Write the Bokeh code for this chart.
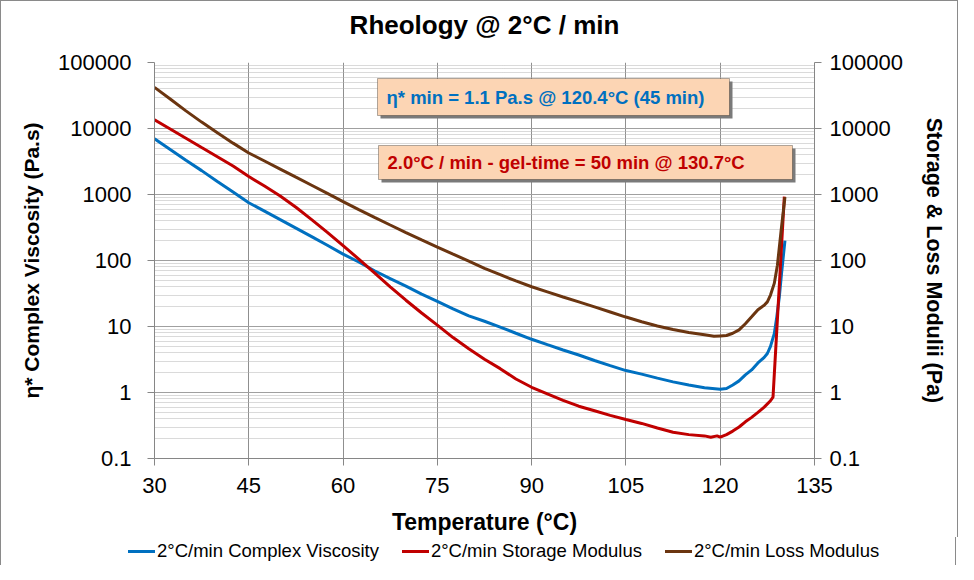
from bokeh.plotting import figure
from bokeh.layouts import column
from bokeh.models import (LogAxis, Range1d, LogScale, BoxAnnotation, Div,
                          Label, FixedTicker, CustomJSTickFormatter, Title)
from bokeh.embed import file_html
from bokeh.resources import INLINE

# ---------------- data ----------------
x_ticks = [30, 45, 60, 75, 90, 105, 120, 135]
y_ticks = [0.1, 1, 10, 100, 1000, 10000, 100000]

temp_visc = [30, 32.5, 35, 37.5, 40, 42.5, 45, 47.5, 50, 52.5, 55, 57.5, 60, 62.5, 65, 67.5, 70,
             72.5, 75, 77.5, 80, 82.5, 85, 87.5, 90, 92.5, 95, 97.5, 100, 102.5, 105, 107.5, 110,
             112.5, 115, 117.5, 120, 121, 122, 123, 124, 125, 126, 127, 127.5, 128, 128.6, 129,
             129.4, 129.8, 130.3]
complex_viscosity = [7000, 4800, 3300, 2300, 1580, 1090, 750, 560, 416, 310, 230, 170, 125, 95, 70,
                     53, 41, 31, 24, 18.5, 14.5, 12, 9.8, 7.9, 6.4, 5.3, 4.4, 3.7, 3.05, 2.55, 2.15,
                     1.9, 1.65, 1.45, 1.3, 1.18, 1.12, 1.15, 1.3, 1.5, 1.85, 2.2, 2.8, 3.4, 3.9, 5.0,
                     7.8, 14, 28, 70, 200]

temp_storage = [30, 32.5, 35, 37.5, 40, 42.5, 45, 47.5, 50, 52.5, 55, 57.5, 60, 62.5, 65, 67.5, 70,
                72.5, 75, 77.5, 80, 82.5, 85, 87.5, 90, 92.5, 95, 97.5, 100, 102.5, 105, 107.5, 110,
                112.5, 115, 117.5, 118.5, 119.5, 120, 121, 122, 123, 124, 125, 126, 127, 128, 128.4,
                130.2]
storage_modulus = [13600, 9850, 7130, 5160, 3740, 2700, 1870, 1346, 950, 640, 417, 267, 168, 105,
                   65, 40, 25, 16, 10.5, 6.8, 4.6, 3.2, 2.3, 1.6, 1.2, 0.95, 0.76, 0.62, 0.53, 0.45,
                   0.39, 0.34, 0.29, 0.25, 0.23, 0.22, 0.21, 0.22, 0.21, 0.23, 0.26, 0.3, 0.36,
                   0.42, 0.5, 0.6, 0.75, 0.85, 930]

temp_loss = [30, 32.5, 35, 37.5, 40, 42.5, 45, 47.5, 50, 52.5, 55, 57.5, 60, 62.5, 65, 67.5, 70,
             72.5, 75, 77.5, 80, 82.5, 85, 87.5, 90, 92.5, 95, 97.5, 100, 102.5, 105, 107.5, 110,
             112.5, 115, 117.5, 119, 120, 121, 122, 123, 124, 125, 126, 127, 127.5, 128, 128.6,
             129.1, 129.7, 130.3]
loss_modulus = [42000, 28000, 18500, 12500, 8600, 6000, 4250, 3220, 2430, 1830, 1380, 1040, 780,
                590, 450, 345, 265, 205, 160, 125, 98, 76, 61, 49, 40, 33.5, 28, 23.6, 19.8, 16.6,
                13.9, 11.8, 10.2, 9.0, 8.1, 7.5, 7.1, 7.2, 7.3, 7.9, 8.9, 11, 14, 18, 21, 23.6, 30,
                45, 85, 290, 910]

series_names = ["2°C/min Complex Viscosity", "2°C/min Storage Modulus", "2°C/min Loss Modulus"]
chart_title = "Rheology @ 2°C / min"
note_viscosity = "η* min = 1.1 Pa.s @ 120.4°C (45 min)"
note_gel = "2.0°C / min - gel-time = 50 min @ 130.7°C"

# ---------------- styling ----------------
FONT = "Liberation Sans"
BLUE = "#0070C0"
RED = "#C00000"
BROWN = "#6B3510"
AXIS_GRAY = "#868686"
EDGE = "1px solid #8a8a8a"

p = figure(frame_width=658, frame_height=395, y_axis_type="log", title=None,
           x_range=Range1d(30, 135), y_range=Range1d(0.1, 100000),
           output_backend="svg", toolbar_location=None,
           min_border_left=153, min_border_right=145, min_border_top=60, min_border_bottom=80)
p.styles = {"border-left": EDGE, "border-top": EDGE, "border-right": EDGE}
p.extra_y_ranges = {"mod": Range1d(0.1, 100000)}
p.extra_y_scales = {"mod": LogScale()}
p.outline_line_color = None
p.background_fill_color = "white"
p.border_fill_color = "white"

# spacer between frame and title, then the title itself
p.add_layout(Title(text=" ", text_font=FONT, text_font_size="12px", standoff=0), "above")
p.add_layout(Title(text=chart_title, align="center", text_font=FONT, text_font_size="26px",
                   text_font_style="bold", text_color="black", standoff=13), "above")

fmt = CustomJSTickFormatter(code="return tick.toString();")
yticker = FixedTicker(ticks=y_ticks,
                      minor_ticks=[m * 10.0 ** e for e in range(-1, 5) for m in range(2, 10)])
xticker = FixedTicker(ticks=x_ticks)

xa = p.xaxis[0]
xa.ticker = xticker
xa.axis_label = "Temperature (°C)"

ya = p.yaxis[0]
ya.ticker = yticker
ya.formatter = fmt
ya.axis_label = "η* Complex Viscosity (Pa.s)"

ra = LogAxis(y_range_name="mod", ticker=yticker, formatter=fmt,
             axis_label="Storage & Loss Modulii (Pa)")
p.add_layout(ra, "right")

for ax in (xa, ya, ra):
    ax.axis_line_color = AXIS_GRAY
    ax.major_tick_line_color = AXIS_GRAY
    ax.minor_tick_line_color = None
    ax.major_tick_out = 7
    ax.major_tick_in = 0
    ax.major_label_text_font = FONT
    ax.major_label_text_font_size = "22px"
    ax.major_label_text_color = "black"
    ax.axis_label_text_font = FONT
    ax.axis_label_text_font_style = "bold"
    ax.axis_label_text_color = "black"
xa.axis_label_text_font_size = "23px"
ya.axis_label_text_font_size = "21px"
ra.axis_label_text_font_size = "21.5px"
xa.major_label_standoff = 12
xa.axis_label_standoff = 13
ya.major_label_standoff = 16
ra.major_label_standoff = 8
ya.axis_label_standoff = 12
ra.axis_label_standoff = 16

p.xgrid.ticker = xticker
p.xgrid.grid_line_color = "#8f8f8f"
p.xgrid.grid_line_width = 1
p.ygrid.ticker = yticker
p.ygrid.grid_line_color = "#a0a0a0"
p.ygrid.grid_line_width = 1
p.ygrid.minor_grid_line_color = "#b4b4b4"
p.ygrid.minor_grid_line_dash = "1 1"
p.ygrid.minor_grid_line_width = 1

# ---------------- annotation boxes (canvas px) ----------------
for (l, r, t, b, col, txt) in [(375, 727, 76, 113, BLUE, note_viscosity),
                               (376, 790, 143, 177, RED, note_gel)]:
    p.add_layout(BoxAnnotation(left=l + 3, right=r + 3, top=t + 3, bottom=b + 3,
                               left_units="canvas", right_units="canvas",
                               top_units="canvas", bottom_units="canvas",
                               fill_color="#7a7a7a", fill_alpha=1, line_color=None, level="overlay"))
    p.add_layout(BoxAnnotation(left=l, right=r, top=t, bottom=b,
                               left_units="canvas", right_units="canvas",
                               top_units="canvas", bottom_units="canvas",
                               fill_color="#FCD5B4", fill_alpha=1, line_color="black",
                               line_width=1, level="overlay"))
    p.add_layout(Label(x=l + 9, y=(t + b) / 2, x_units="canvas", y_units="canvas", text=txt,
                       text_font=FONT, text_font_size="18.5px", text_font_style="bold",
                       text_color=col, text_baseline="middle", level="overlay"))

# ---------------- lines ----------------
p.line(temp_visc, complex_viscosity, line_color=BLUE, line_width=3)
p.line(temp_storage, storage_modulus, line_color=RED, line_width=3, y_range_name="mod")
p.line(temp_loss, loss_modulus, line_color=BROWN, line_width=3, y_range_name="mod")

# ---------------- legend strip below the chart ----------------
key_html = "".join(
    f'<span style="display:inline-block;width:27px;height:3px;background:{c};'
    f'vertical-align:middle;margin-right:2px"></span>'
    f'<span style="vertical-align:middle;margin-right:23px">{name}</span>'
    for c, name in zip([BLUE, RED, BROWN], series_names))
legend_div = Div(
    text=f'<div style="font-family:\'{FONT}\';font-size:18.5px;color:black;white-space:nowrap;'
         f'padding-left:127px;line-height:26px;height:28px">{key_html}</div>',
    width=956, height=28, margin=0,
    styles={"border-left": EDGE, "border-right": EDGE, "background": "white"})

layout = column(p, legend_div, spacing=0)
open("out.html", "w").write(file_html(layout, INLINE))
